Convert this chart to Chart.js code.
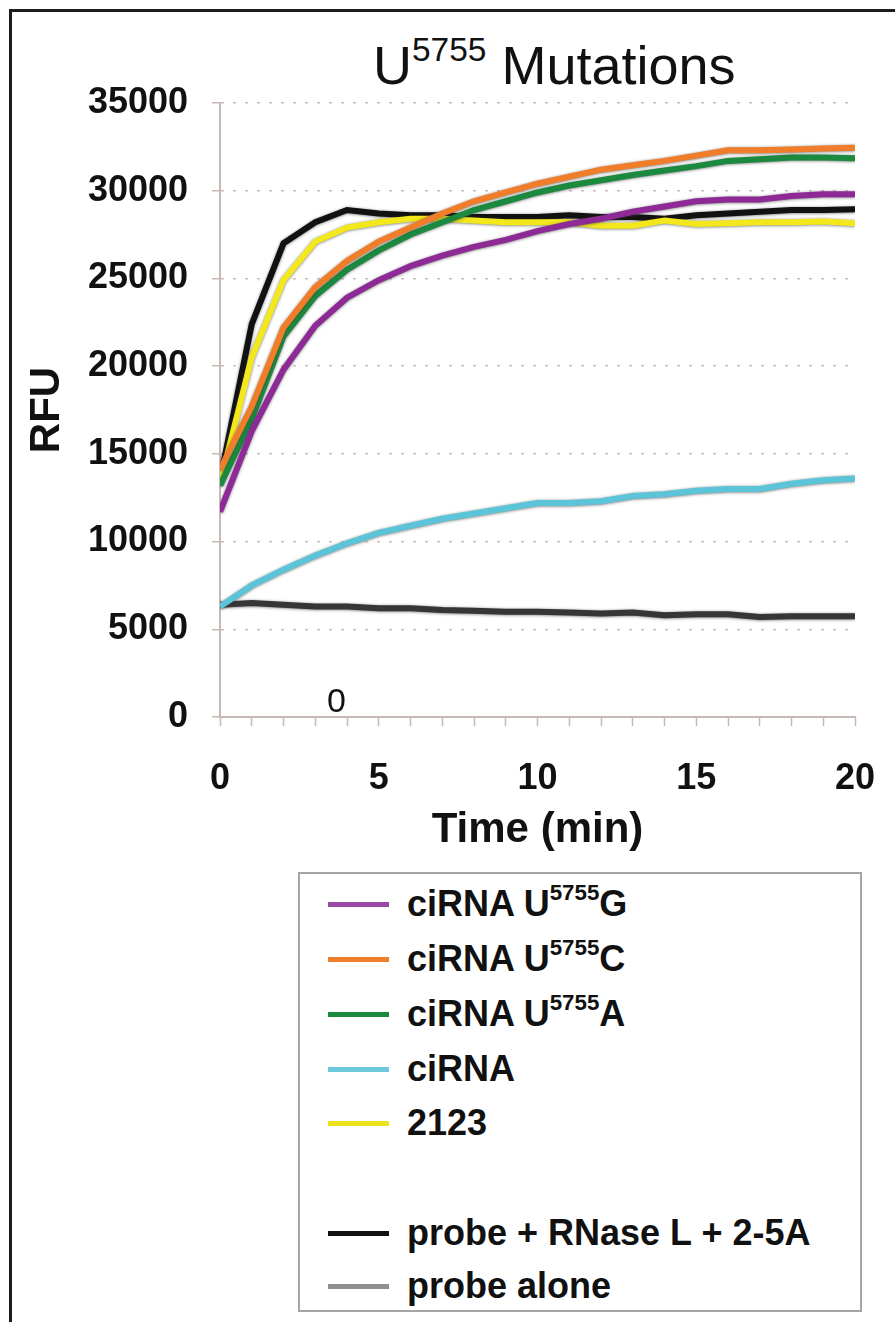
<!DOCTYPE html>
<html>
<head>
<meta charset="utf-8">
<title>U5755 Mutations</title>
<script src="https://cdn.jsdelivr.net/npm/chart.js@4.4.0/dist/chart.umd.min.js"></script>
<style>
    body {
        margin: 0;
        width: 895px;
        height: 1322px;
        overflow: hidden;
        position: relative;
        background: #fff;
        font-family: "Liberation Sans", Arial, sans-serif;
        color: #111;
    }
    #frame {
        position: absolute;
        left: 9px;
        top: 9px;
        width: 900px;
        height: 1330px;
        border: 3px solid #1c1c1c;
    }
    #chart-wrap {
        position: absolute;
        left: 0;
        top: 0;
    }
    /* title box also hides most of the top gridline, as in the original */
    #title {
        position: absolute;
        left: 223px;
        top: 28px;
        width: 564px;
        height: 74px;
        background: #fff;
        font-size: 54px;
        line-height: 74px;
        padding-left: 150px;
        box-sizing: border-box;
        white-space: nowrap;
    }
    #title sup {
        font-size: 62%;
        line-height: 0;
        position: relative;
        top: -0.12em;
    }
    #stray-zero {
        position: absolute;
        left: 327px;
        top: 681px;
        font-size: 34px;
    }
    #legend {
        position: absolute;
        left: 298px;
        top: 872px;
        width: 564px;
        height: 440px;
        border: 2px solid #a8a4a4;
        box-sizing: border-box;
    }
    .legend-row {
        position: absolute;
        left: 28px;
        height: 44px;
        display: flex;
        align-items: center;
        font-weight: bold;
        font-size: 36px;
        white-space: nowrap;
    }
    .legend-row .swatch {
        width: 61px;
        height: 5px;
        margin-right: 18px;
    }
    .legend-row sup {
        font-size: 62%;
        line-height: 0;
        position: relative;
        top: -0.15em;
    }
</style>
</head>
<body>
<div id="frame"></div>
<div id="chart-wrap"><canvas id="rfu-chart" width="895" height="857"></canvas></div>
<div id="title">U<sup>5755</sup> Mutations</div>
<div id="stray-zero">0</div>
<div id="legend"></div>

<script>
// time points (min)
const minutes = [0, 1, 2, 3, 4, 5, 6, 7, 8, 9, 10, 11, 12, 13, 14, 15, 16, 17, 18, 19, 20];
const xTickLabels = ['0', '5', '10', '15', '20'];
const yTickLabels = ['0', '5000', '10000', '15000', '20000', '25000', '30000', '35000'];

// RFU readings
const mutG = [11700, 16300, 19800, 22300, 23900, 24900, 25700, 26300, 26800, 27200, 27700,
    28100, 28400, 28800, 29100, 29400, 29500, 29500, 29700, 29800, 29800];
const mutC = [14100, 17700, 22200, 24500, 26000, 27100, 27900, 28700, 29400, 29900, 30400,
    30800, 31200, 31450, 31700, 32000, 32300, 32300, 32350, 32400, 32450];
const mutA = [13200, 17000, 21700, 24000, 25500, 26600, 27500, 28200, 28900, 29400, 29900,
    30300, 30600, 30900, 31150, 31400, 31700, 31800, 31900, 31900, 31850];
const ciRNA = [6300, 7500, 8400, 9200, 9900, 10500, 10900, 11300, 11600, 11900, 12200,
    12200, 12300, 12600, 12700, 12900, 13000, 13000, 13300, 13500, 13600];
const rna2123 = [13300, 20500, 24900, 27100, 27900, 28200, 28400, 28400, 28300, 28200, 28200,
    28200, 28000, 28000, 28300, 28100, 28150, 28200, 28200, 28250, 28150];
const probeRnaseL = [13500, 22400, 27000, 28200, 28900, 28700, 28600, 28600, 28500, 28500, 28500,
    28600, 28500, 28500, 28400, 28600, 28700, 28800, 28900, 28900, 28950];
const probeAlone = [6400, 6500, 6400, 6300, 6300, 6200, 6200, 6100, 6050, 6000, 6000,
    5950, 5900, 5950, 5800, 5850, 5850, 5700, 5750, 5750, 5750];

const seriesLabels = ['ciRNA U<sup>5755</sup>G', 'ciRNA U<sup>5755</sup>C', 'ciRNA U<sup>5755</sup>A',
    'ciRNA', '2123', 'probe + RNase L + 2-5A', 'probe alone'];
const seriesValues = [mutG, mutC, mutA, ciRNA, rna2123, probeRnaseL, probeAlone];
const lineColors = ['#8e2a96', '#f07d2a', '#1b8a3e', '#5cc4d8', '#f2e81c', '#111111', '#363636'];
const swatchColors = ['#9a48a6', '#f07d2a', '#1b8a3e', '#6cc8da', '#ece21c', '#111111', '#8f8f8f'];
// legend rows (y centre inside the box); blank slot before the controls
const legendRowY = [30, 85, 140, 195, 249, 359, 412];

const axisColor = '#c6b9b5';
const gridColor = '#cdbcb8';

// soft grey edge round every line, like the Excel shadow in the original
const lineHalo = {
    id: 'lineHalo',
    beforeDatasetDraw(chart) {
        const ctx = chart.ctx;
        ctx.save();
        ctx.shadowColor = 'rgba(60, 60, 60, 0.7)';
        ctx.shadowBlur = 3;
        ctx.shadowOffsetX = 0;
        ctx.shadowOffsetY = 0.5;
    },
    afterDatasetDraw(chart) {
        chart.ctx.restore();
    }
};

const datasets = seriesValues.map((vals, i) => ({
    label: seriesLabels[i].replace(/<\/?sup>/g, ''),
    data: minutes.map((m, j) => ({ x: m, y: vals[j] })),
    borderColor: lineColors[i],
    borderWidth: 6,
    pointRadius: 0,
    tension: 0,
    fill: false
}));

const chart = new Chart(document.getElementById('rfu-chart'), {
    type: 'line',
    data: { datasets: datasets },
    options: {
        responsive: false,
        animation: false,
        layout: { padding: { left: 0, top: 103, right: 40, bottom: 0 } },
        plugins: {
            legend: { display: false },
            tooltip: { enabled: false }
        },
        scales: {
            x: {
                type: 'linear',
                min: 0,
                max: 20,
                afterFit: (scale) => {
                    scale.height = 140;
                    scale.paddingLeft = 0;
                    scale.paddingRight = 0;
                },
                ticks: {
                    stepSize: 1,
                    autoSkip: false,
                    maxRotation: 0,
                    padding: 31,
                    color: '#111',
                    font: { family: 'Liberation Sans', size: 36, weight: 'bold' },
                    callback: (v) => xTickLabels.includes(String(v)) ? String(v) : ''
                },
                grid: {
                    drawOnChartArea: false,
                    drawTicks: true,
                    tickLength: 9,
                    tickColor: axisColor,
                    tickWidth: 1.5
                },
                border: { color: axisColor, width: 2 },
                title: {
                    display: true,
                    text: 'Time (min)',
                    color: '#111',
                    font: { family: 'Liberation Sans', size: 42, weight: 'bold' },
                    padding: { top: 0, bottom: 1 }
                }
            },
            y: {
                min: 0,
                max: 35000,
                afterFit: (scale) => { scale.width = 220; },
                ticks: {
                    stepSize: 5000,
                    padding: 24,
                    color: '#111',
                    font: { family: 'Liberation Sans', size: 36, weight: 'bold' },
                    callback: (v) => yTickLabels.includes(String(v)) ? String(v) : ''
                },
                grid: {
                    color: gridColor,
                    lineWidth: 1.5,
                    tickLength: 8,
                    tickColor: axisColor,
                    tickWidth: 1.5,
                    tickBorderDash: []
                },
                border: { color: axisColor, width: 2, dash: [3, 9] },
                title: {
                    display: true,
                    text: 'RFU',
                    color: '#111',
                    font: { family: 'Liberation Sans', size: 42, weight: 'bold' },
                    padding: { top: 22, bottom: 0 }
                }
            }
        }
    },
    plugins: [lineHalo]
});

// legend built from the same series lists (needs superscripts)
const legendBox = document.getElementById('legend');
seriesLabels.forEach((label, i) => {
    const row = document.createElement('div');
    row.className = 'legend-row';
    row.style.top = (legendRowY[i] - 22) + 'px';
    row.innerHTML = `<span class="swatch" style="background:${swatchColors[i]}"></span><span>${label}</span>`;
    legendBox.appendChild(row);
});
</script>
</body>
</html>
